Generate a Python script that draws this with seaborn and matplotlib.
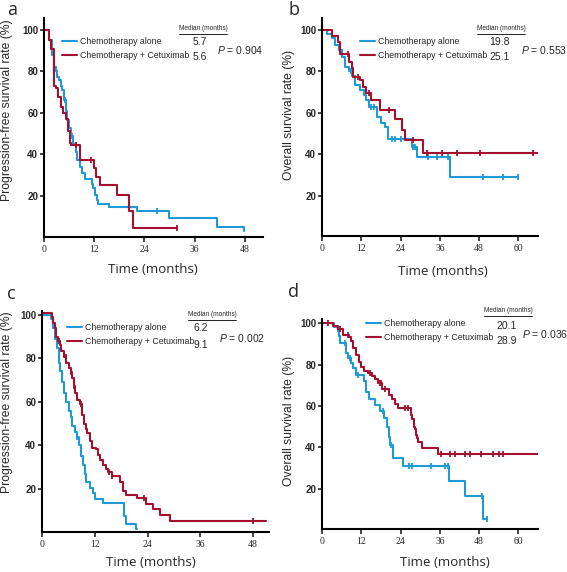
import numpy as np
import pandas as pd
import matplotlib
matplotlib.use("Agg")
import matplotlib.pyplot as plt
from matplotlib.lines import Line2D
import seaborn as sns

BLUE = "#1f9ad6"
RED = "#a5102f"

# ---- panel a: progression-free survival ----
a_alone_t = [0, 1.1, 2.0, 2.5, 2.8, 3.1, 3.6, 4.0, 4.4, 4.8, 5.2, 5.6, 5.9, 6.5, 7.0, 7.6, 8.0,
             8.6, 9.0, 9.7, 11.4, 11.8, 12.2, 12.6, 13.0, 15.5, 22.3, 29.9, 41.2, 47.8]
a_alone_s = [100, 95, 88, 82, 80, 77.5, 76, 73, 71, 66, 61, 56.5, 52.5, 49, 45, 41, 37,
             34, 31, 28, 25.5, 23.5, 20.3, 18, 16, 14.3, 12.7, 9.4, 4.9, 3]
a_alone_cens = [4.9, 6.6, 26.9]
a_combo_t = [0, 1.1, 1.7, 2.3, 2.9, 3.4, 4.0, 4.5, 5.3, 5.7, 6.1, 6.5, 8.5, 12.0, 12.5, 13.3,
             17.5, 20.3, 21.3, 31.7]
a_combo_s = [100, 95, 91, 73, 72, 67.5, 63, 60, 57, 51, 45.2, 44.4, 37.2, 33.2, 29, 25.1,
             20.3, 12.7, 4.2, 4.2]
a_combo_cens = [7.6, 11.3, 31.7]

# ---- panel b: overall survival ----
b_alone_t = [0, 1.5, 3.1, 3.9, 5.1, 6.1, 7.1, 8.1, 9.2, 10.2, 11.7, 12.7, 13.3, 14.3, 16.7,
             18.0, 19.3, 20.3, 27.4, 29.0, 39.1, 60]
b_alone_s = [100, 98, 96, 92.8, 90.3, 87, 82.3, 80, 78, 73.4, 71, 68.6, 66, 62.7, 58,
             55.1, 53, 47.3, 43.6, 38.8, 29.1, 29.1]
b_alone_cens = [8.9, 15.0, 15.8, 21.3, 22.3, 24.0, 27.9, 28.5, 32.5, 35.0, 38.6, 49.3, 55.3, 60]
b_combo_t = [0, 3.0, 4.8, 5.5, 8.4, 9.1, 9.6, 11.6, 12.4, 13.5, 15.0, 17.7, 22.3, 24.4, 25.4,
             31.0, 66]
b_combo_s = [100, 97, 94, 88.5, 84.7, 81.5, 77.5, 76, 72.6, 69.7, 66.2, 61.4, 56.8, 51.7,
             46.9, 40.7, 40.7]
b_combo_cens = [7.9, 11.0, 14.3, 20.6, 27.9, 32.0, 36.6, 41.2, 48.3, 64.4]

# ---- panel c: progression-free survival ----
c_alone_t = [0, 2.1, 2.5, 2.9, 3.3, 3.9, 4.2, 4.6, 5.0, 5.5, 6.1, 6.5, 6.9, 7.4, 8.0, 8.4,
             8.9, 9.4, 9.8, 10.1, 10.8, 11.6, 12.0, 13.9, 18.7, 19.2, 21.4, 21.5]
c_alone_s = [100, 98, 94, 89, 85, 78, 74, 69, 64, 60, 56, 53, 49, 46, 44, 40,
             35, 31, 27, 23, 20.5, 18, 15.6, 13.4, 7.7, 3.8, 1.5, 1.5]
c_alone_cens = [8.0]
c_combo_t = [0, 2.3, 2.6, 2.9, 3.1, 3.6, 4.0, 4.4, 5.0, 5.5, 6.1, 6.5, 6.9, 7.2, 7.6, 8.0,
             8.6, 9.1, 9.5, 9.9, 10.3, 10.8, 11.4, 12.3, 12.7, 13.1, 13.9, 14.5, 15.0, 15.8,
             17.7, 18.5, 19.2, 21.5, 23.7, 25.2, 26.8, 29.0, 51.0]
c_combo_s = [101, 99, 96.5, 94, 90, 88, 86, 83.5, 80.5, 78, 75.8, 72.8, 71, 67.5, 64, 61,
             59, 54, 50, 47.4, 45.8, 42, 38.9, 38.2, 35.8, 33.5, 31.2, 29.2, 28, 25.8,
             23.3, 19, 17.4, 15.8, 13.2, 10.8, 8.2, 5.4, 5.4]
c_combo_cens = [3.8, 5.4, 6.8, 7.3, 8.9, 15.2, 15.9, 23.2, 48.0]

# ---- panel d: overall survival ----
d_alone_t = [0, 3.8, 4.8, 5.2, 5.6, 7.3, 8.0, 8.9, 9.6, 10.4, 12.8, 13.5, 14.3, 16.2, 17.6,
             18.9, 19.8, 20.4, 20.9, 21.6, 24.9, 38.9, 43.7, 49.3, 50.4]
d_alone_s = [100, 98, 96.3, 93.9, 90.6, 85.8, 83, 80.5, 78.5, 75, 72, 66.5, 63.2, 60.5, 57.6,
             54, 50, 45, 41, 34.6, 31.1, 23.7, 16.6, 5.3, 5.3]
d_alone_cens = [7.1, 8.7, 11.0, 18.6, 21.1, 26.7, 27.4, 33.3, 37.6, 38.6, 48.8, 50.4]
d_combo_t = [0, 3.3, 4.8, 6.3, 8.4, 8.9, 9.6, 10.4, 11.2, 11.9, 12.8, 14.0, 15.3, 16.2, 17.0,
             18.3, 20.6, 21.4, 22.3, 23.2, 27.2, 27.6, 28.0, 28.3, 28.6, 29.0, 29.3, 30.6,
             35.4, 67]
d_combo_s = [100, 98.5, 97.1, 94.5, 93.1, 91.5, 88, 84.5, 81, 79, 77, 75.8, 74.5, 72.9, 71.3,
             68, 65.5, 63.2, 60.8, 59.2, 55.5, 53.5, 50, 48.7, 46, 44.7, 42.5, 39.8,
             36.6, 36.6]
d_combo_cens = [1.7, 5.5, 7.9, 14.7, 17.6, 18.1, 19.2, 25.4, 26.4, 36.4, 39.1, 40.7, 43.7,
                45.3, 48.5, 52.2, 54.2, 55.4]

labels = ["Chemotherapy alone", "Chemotherapy + Cetuximab"]
medians_a = ["5.7", "5.6"]
medians_b = ["19.8", "25.1"]
medians_c = ["6.2", "9.1"]
medians_d = ["20.1", "28.9"]
pvals = ["0.904", "0.553", "0.002", "0.036"]
letters = ["a", "b", "c", "d"]
ylabels = ["Progression-free survival rate (%)", "Overall survival rate (%)",
           "Progression-free survival rate (%)", "Overall survival rate (%)"]

sns.set_style("ticks")
plt.rcParams["mathtext.fontset"] = "custom"
plt.rcParams["mathtext.it"] = "Liberation Sans:italic"
plt.rcParams["mathtext.rm"] = "Liberation Sans"
SANS = "Liberation Sans"

W, H = 567, 572
fig = plt.figure(figsize=(W / 100, H / 100), dpi=100)


def fx(px):
    return px / W


def fy(py):
    return 1 - py / H


def km(ax, t, s, cens, color, label):
    df = pd.DataFrame({"t": t, "s": s})
    sns.lineplot(data=df, x="t", y="s", drawstyle="steps-post", color=color, lw=1.5,
                 label=label, ax=ax, estimator=None)
    idx = np.searchsorted(np.asarray(t), cens, side="right") - 1
    cy = np.asarray(s)[np.clip(idx, 0, len(s) - 1)]
    ax.plot(cens, cy, ls="none", marker="|", ms=5, mew=1.3, color=color)


def panel(box, xmax, ylim, curves, xticks, letter, ylabel, ylab_xy, xlab_xy,
          leg_xy, letter_xy, head_x, head_y, med_x, med_ys, meds, p_xy, pval):
    l, t, r, b = box
    ax = fig.add_axes([fx(l), fy(b), (r - l) / W, (b - t) / H])
    for (tt, ss, cc, col, lab) in curves:
        km(ax, tt, ss, cc, col, lab)
    ax.set_xlim(0, xmax)
    ax.set_ylim(*ylim)
    ax.set_xticks(xticks)
    ax.set_yticks([20, 40, 60, 80, 100])
    sns.despine(ax=ax)
    for sp in ["left", "bottom"]:
        ax.spines[sp].set_linewidth(1.5)
        ax.spines[sp].set_color("black")
    ax.tick_params(axis="x", length=3.5, width=1.2, pad=2.5, labelsize=7)
    ax.tick_params(axis="y", length=3, width=1.2, pad=1.2, labelsize=7)
    for lab in ax.get_xticklabels():
        lab.set_family("Liberation Serif")
    for lab in ax.get_yticklabels():
        lab.set_family(SANS)
        lab.set_weight("bold")
    ax.set_xlabel("Time (months)", family="Open Sans", fontsize=9.5)
    ax.set_ylabel(ylabel, family=SANS, fontsize=8.7)
    ax.yaxis.set_label_coords((ylab_xy[0] - l) / (r - l), (b - ylab_xy[1]) / (b - t))
    ax.xaxis.set_label_coords((xlab_xy[0] - l) / (r - l), (b - xlab_xy[1]) / (b - t))
    ax.legend(loc="upper left", bbox_to_anchor=(fx(leg_xy[0]), fy(leg_xy[1])),
              bbox_transform=fig.transFigure, frameon=False, borderpad=0, borderaxespad=0,
              handlelength=1.7, handletextpad=0.35, labelspacing=0.6,
              prop={"family": SANS, "size": 6.3})
    fig.text(fx(letter_xy[0]), fy(letter_xy[1]), letter, fontsize=13,
             family="Open Sans", ha="left", va="baseline")
    fig.text(fx(head_x), fy(head_y), "Median (months)", fontsize=4.7, family=SANS,
             ha="center", va="center")
    fig.add_artist(Line2D([fx(head_x - 24), fx(head_x + 24)], [fy(head_y + 4.5), fy(head_y + 4.5)],
                          color="black", lw=0.6, transform=fig.transFigure))
    for m, yy in zip(meds, med_ys):
        fig.text(fx(med_x), fy(yy), m, fontsize=7.5, family=SANS,
                 ha="center", va="center")
    fig.text(fx(p_xy[0]), fy(p_xy[1]), r"$P$ = " + pval, fontsize=7.5,
             family=SANS, ha="left", va="center")
    return ax


panel((44, 18, 263, 237), 52.3, (0, 105.8),
      [(a_alone_t, a_alone_s, a_alone_cens, BLUE, labels[0]),
       (a_combo_t, a_combo_s, a_combo_cens, RED, labels[1])],
      [0, 12, 24, 36, 48], letters[0], ylabels[0], (13, 110), (152.5, 263),
      (62, 37), (7, 15), 203, 29, 200, (42, 57), medians_a, (217, 50), pvals[0])

panel((322, 18, 538, 236), 66, (0.5, 105.8),
      [(b_alone_t, b_alone_s, b_alone_cens, BLUE, labels[0]),
       (b_combo_t, b_combo_s, b_combo_cens, RED, labels[1])],
      [0, 12, 24, 36, 48, 60], letters[1], ylabels[1], (295, 115), (443, 265),
      (360, 37), (289, 15), 501, 29, 499.5, (42, 57), medians_b, (521, 50), pvals[1])

panel((42, 311, 269, 532), 51.6, (0.2, 101.8),
      [(c_alone_t, c_alone_s, c_alone_cens, BLUE, labels[0]),
       (c_combo_t, c_combo_s, c_combo_cens, RED, labels[1])],
      [0, 12, 24, 36, 48], letters[2], ylabels[2], (13, 402), (151, 556),
      (67, 323), (7, 299), 212, 315, 201, (328, 345), medians_c, (219, 338), pvals[2])

panel((322, 319, 538, 529), 66, (0.5, 102),
      [(d_alone_t, d_alone_s, d_alone_cens, BLUE, labels[0]),
       (d_combo_t, d_combo_s, d_combo_cens, RED, labels[1])],
      [0, 12, 24, 36, 48, 60], letters[3], ylabels[3], (295, 421), (445, 556),
      (366, 319), (288, 297), 508, 311, 507, (326, 341), medians_d, (522, 334), pvals[3])

fig.savefig("out.png", dpi=100)
